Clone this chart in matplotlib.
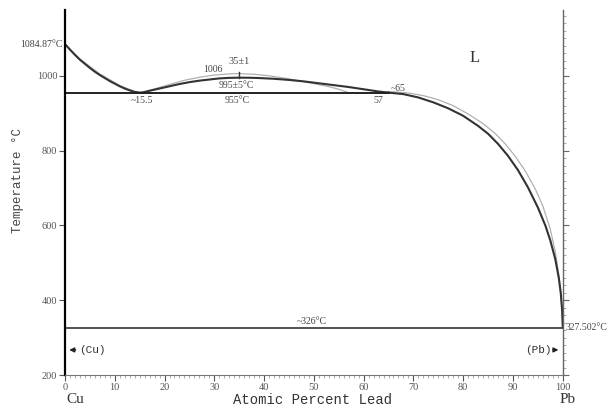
import numpy as np
import matplotlib.pyplot as plt
from matplotlib.ticker import MultipleLocator

# liquidus, Cu side (black)
liq_cu_x = [0, 1, 2, 3, 4, 5, 6, 7, 8, 9, 10, 11, 12, 13, 14, 15, 15.5]
liq_cu_t = [1084.87, 1070, 1056, 1043, 1032, 1021, 1011, 1002, 994, 986, 979, 972, 966, 961, 957, 955, 955]

# miscibility gap (black)
gap_x = [15.5, 17, 19, 21, 23, 25, 27, 29, 31, 33, 35, 37, 39, 42, 45, 48, 51, 54, 57, 60, 63, 65]
gap_t = [955, 960, 966, 972, 978, 983, 987, 990, 993, 994.5, 995, 994.8, 994, 992, 989, 985, 980, 975, 970, 964, 958, 955]

# liquidus, Pb side (black)
liq_pb_x = [65, 68, 71, 74, 77, 80, 83, 85, 87, 89, 91, 93, 95, 96.5, 97.5, 98.5, 99.2, 99.6, 99.9, 100]
liq_pb_t = [955, 951, 942, 929, 913, 893, 866, 845, 818, 786, 748, 702, 648, 600, 560, 510, 460, 420, 370, 327.5]

# alternative assessment (grey)
alt_cu_x = [0, 3, 7, 11, 14, 15.5]
alt_cu_t = [1084.87, 1045, 1005, 974, 958, 955]
alt_gap_x = [15.5, 18, 21, 24, 27, 30, 33, 35, 38, 41, 44, 47, 50, 53, 55, 57]
alt_gap_t = [955, 965, 977, 988, 996, 1002, 1005, 1006, 1004, 1000, 994, 987, 979, 971, 964, 955]
alt_pb_x = [63, 66, 69, 72, 75, 78, 81, 84, 86.5, 88.5, 90.5, 92.5, 94.5, 96, 97.5, 98.5, 99.3, 99.7, 100]
alt_pb_t = [955, 957, 954, 947, 936, 920, 898, 872, 845, 817, 784, 745, 697, 652, 590, 530, 460, 400, 327.5]

eutectic_t = 955
monotectic_t = 326
pb_melt = 327.502

fig = plt.figure(figsize=(6.13, 4.12), dpi=100)
ax = fig.add_axes([0.106, 0.0898, 0.812, 0.886])

ax.plot(alt_cu_x, alt_cu_t, color='#b0b0b0', lw=0.9)
ax.plot(alt_gap_x, alt_gap_t, color='#b0b0b0', lw=0.9)
ax.plot(alt_pb_x, alt_pb_t, color='#b0b0b0', lw=0.9)

ax.plot(liq_cu_x, liq_cu_t, color='#333333', lw=1.5)
ax.plot(gap_x, gap_t, color='#333333', lw=1.5)
ax.plot(liq_pb_x, liq_pb_t, color='#333333', lw=1.5)

ax.plot([0, 65], [eutectic_t, eutectic_t], color='#222222', lw=1.4)
ax.plot([0, 100], [monotectic_t, monotectic_t], color='#333333', lw=1.2)
ax.plot([35, 35], [995, 1010], color='#333333', lw=1.0)

ax.set_xlim(0, 100)
ax.set_ylim(200, 1176)

ax.spines['top'].set_visible(False)
ax.spines['left'].set_linewidth(1.6)
ax.spines['right'].set_visible(False)
ax.spines['bottom'].set_linewidth(0.8)
ax.spines['bottom'].set_color('#777777')

ax.set_xticks(range(0, 101, 10))
ax.xaxis.set_minor_locator(MultipleLocator(1))
ax.set_yticks([200, 400, 600, 800, 1000])
ax.tick_params(axis='both', which='major', labelsize=7.5, colors='#555555',
               length=4, width=0.8, direction='out', pad=1.5)
ax.tick_params(axis='x', which='minor', length=2, width=0.5, colors='#888888', direction='out')
for lab in ax.get_xticklabels() + ax.get_yticklabels():
    lab.set_family('Liberation Serif')

# right-hand temperature scale, ticks only
ax2 = ax.twinx()
ax2.set_ylim(ax.get_ylim())
for s in ['top', 'left', 'bottom']:
    ax2.spines[s].set_visible(False)
ax2.spines['right'].set_linewidth(1.0)
ax2.spines['right'].set_color('#666666')
ax2.set_yticks([200, 400, 600, 800, 1000])
ax2.yaxis.set_minor_locator(MultipleLocator(20))
ax2.tick_params(axis='y', which='major', length=4, width=0.8, colors='#666666',
                direction='out', labelright=False)
ax2.tick_params(axis='y', which='minor', length=2, width=0.5, colors='#888888', direction='out')

sf = 'Liberation Serif'
tc = '#444444'
ax.text(-0.5, 1083, '1084.87°C', ha='right', va='center', fontsize=7, family=sf, color=tc, clip_on=False)
ax.text(82.3, 1048, 'L', ha='center', va='center', fontsize=12, family=sf, color='#333333')
ax.text(29.7, 1016, '1006', ha='center', va='center', fontsize=7, family=sf, color=tc)
ax.text(35, 1037, '35±1', ha='center', va='center', fontsize=7.5, family=sf, color=tc)
ax.text(34.5, 973, '995±5°C', ha='center', va='center', fontsize=7, family=sf, color=tc)
ax.text(15.5, 933, '~15.5', ha='center', va='center', fontsize=7, family=sf, color=tc)
ax.text(34.5, 933, '955°C', ha='center', va='center', fontsize=7, family=sf, color=tc)
ax.text(62.9, 933, '57', ha='center', va='center', fontsize=7, family=sf, color=tc)
ax.text(67, 965, '~65', ha='center', va='center', fontsize=7, family=sf, color=tc)
ax.text(49.6, 344, '~326°C', ha='center', va='center', fontsize=7, family=sf, color=tc)
ax.text(100.6, pb_melt, '327.502°C', ha='left', va='center', fontsize=7, family=sf, color=tc, clip_on=False)

mf = 'Liberation Mono'
ax.text(2.8, 267, '(Cu)', ha='left', va='center', fontsize=8, family=mf, color='#333333')
ax.annotate('', xy=(0.3, 267), xytext=(2.7, 267),
            arrowprops=dict(arrowstyle='-|>', color='#222222', lw=1.0, mutation_scale=7))
ax.text(97.7, 267, '(Pb)', ha='right', va='center', fontsize=8, family=mf, color='#333333')
ax.annotate('', xy=(99.7, 267), xytext=(97.5, 267),
            arrowprops=dict(arrowstyle='-|>', color='#222222', lw=1.0, mutation_scale=7))

fig.text(313 / 613, 0.03, 'Atomic Percent Lead', ha='center', va='center', fontsize=10,
         family=mf, color='#333333')
fig.text(66 / 613, 0.03, 'Cu', ha='left', va='center', fontsize=11, family=sf, color='#333333')
fig.text(568 / 613, 0.03, 'Pb', ha='center', va='center', fontsize=11, family=sf, color='#333333')
fig.text(0.03, 0.563, 'Temperature °C', ha='center', va='center', rotation=90, fontsize=9,
         family=mf, color='#444444')

fig.savefig('out.png', dpi=100)
